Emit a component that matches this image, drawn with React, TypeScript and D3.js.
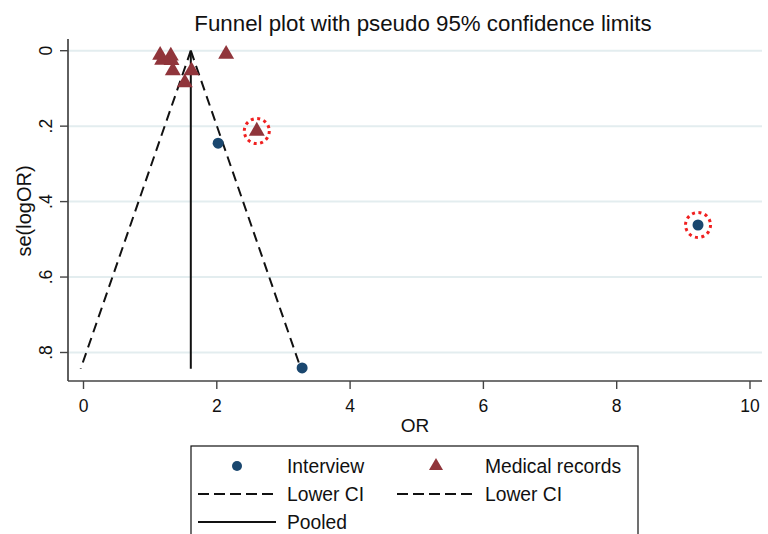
import React from "react";
import * as d3 from "d3";

const interviewOR = [2.02, 9.22, 3.28];
const interviewSE = [0.245, 0.462, 0.841];
const medicalOR = [1.15, 1.18, 1.31, 1.32, 1.34, 1.62, 1.52, 2.14, 2.6];
const medicalSE = [0.012, 0.025, 0.014, 0.026, 0.053, 0.053, 0.085, 0.009, 0.213];
const highlightInterview = [1];
const highlightMedical = [8];
const pooledOR = 1.61;
const seMax = 0.843;
const xTicks = [0, 2, 4, 6, 8, 10];
const yTicks = [0, 0.2, 0.4, 0.6, 0.8];
const yTickLabels = ["0", ".2", ".4", ".6", ".8"];
const legendLabels = ["Interview", "Medical records", "Lower CI", "Lower CI", "Pooled"];

const W = 768;
const H = 534;
const FONT = "'Liberation Sans', Arial, sans-serif";
const BLUE = "#1a476f";
const MAROON = "#90353b";

export default function App() {
  const plotL = 68, plotR = 762, plotT = 39, plotB = 381;
  const x = d3.scaleLinear().domain([0, 10]).range([83.5, 750]);
  const y = d3.scaleLinear().domain([0, 0.8]).range([50.7, 352.5]);
  const z = 1.96;
  const line = d3.line<[number, number]>().x((d) => x(d[0])).y((d) => y(d[1]));
  const lowerCI: [number, number][] = [[pooledOR, 0], [pooledOR - z * seMax, seMax]];
  const upperCI: [number, number][] = [[pooledOR, 0], [pooledOR + z * seMax, seMax]];
  const pooledLine: [number, number][] = [[pooledOR, 0], [pooledOR, seMax]];
  const tri = d3.symbol().type(d3.symbolTriangle).size(110)();
  const triLegend = d3.symbol().type(d3.symbolTriangle).size(85)();

  const highlights = [
    ...highlightInterview.map((i) => [interviewOR[i], interviewSE[i]]),
    ...highlightMedical.map((i) => [medicalOR[i], medicalSE[i]]),
  ];

  return (
    <svg width={W} height={H} style={{ position: "absolute", left: 0, top: 0, background: "#fff" }} fontFamily={FONT}>
      <rect x={0} y={0} width={W} height={H} fill="#fff" />
      <text x={423} y={31} textAnchor="middle" fontSize={22.3} fill="#111">
        Funnel plot with pseudo 95% confidence limits
      </text>
      {yTicks.map((t) => (
        <line key={"g" + t} x1={plotL} x2={plotR} y1={y(t)} y2={y(t)} stroke="#e3edef" strokeWidth={2} />
      ))}
      {/* axes */}
      <line x1={plotL} x2={plotL} y1={plotT} y2={plotB} stroke="#444" strokeWidth={1.7} />
      <line x1={plotL} x2={plotR} y1={plotB} y2={plotB} stroke="#444" strokeWidth={1.7} />
      {yTicks.map((t, i) => (
        <g key={"yt" + t}>
          <line x1={plotL - 8} x2={plotL} y1={y(t)} y2={y(t)} stroke="#444" strokeWidth={1.4} />
          <text
            transform={`translate(${52},${y(t)}) rotate(-90)`}
            textAnchor="middle"
            fontSize={17.5}
            fill="#111"
          >
            {yTickLabels[i]}
          </text>
        </g>
      ))}
      {xTicks.map((t) => (
        <g key={"xt" + t}>
          <line x1={x(t)} x2={x(t)} y1={plotB} y2={plotB + 8} stroke="#444" strokeWidth={1.4} />
          <text x={x(t)} y={412} textAnchor="middle" fontSize={17.5} fill="#111">
            {t}
          </text>
        </g>
      ))}
      <text x={415} y={432} textAnchor="middle" fontSize={19} fill="#111">OR</text>
      <text transform={`translate(${31},${211}) rotate(-90)`} textAnchor="middle" fontSize={20} fill="#111">
        se(logOR)
      </text>
      {/* funnel */}
      <path d={line(lowerCI) || ""} fill="none" stroke="#111" strokeWidth={2} strokeDasharray="10,6" />
      <path d={line(upperCI) || ""} fill="none" stroke="#111" strokeWidth={2} strokeDasharray="10,6" />
      <path d={line(pooledLine) || ""} fill="none" stroke="#111" strokeWidth={2} />
      {/* points */}
      {interviewOR.map((v, i) => (
        <circle key={"c" + i} cx={x(v)} cy={y(interviewSE[i])} r={5.5} fill={BLUE} />
      ))}
      {medicalOR.map((v, i) => (
        <path key={"t" + i} d={tri || ""} transform={`translate(${x(v)},${y(medicalSE[i])})`} fill={MAROON} />
      ))}
      {highlights.map((p, i) => (
        <circle
          key={"h" + i}
          cx={x(p[0])}
          cy={y(p[1])}
          r={12.5}
          fill="none"
          stroke="#f02020"
          strokeWidth={3}
          strokeDasharray="3,3.55"
        />
      ))}
      {/* legend */}
      <rect x={191} y={446} width={447} height={100} fill="#fff" stroke="#111" strokeWidth={1.2} />
      <circle cx={237} cy={466} r={5} fill={BLUE} />
      <text x={287} y={473} fontSize={19.3} fill="#111">{legendLabels[0]}</text>
      <path d={triLegend || ""} transform="translate(436,466)" fill={MAROON} />
      <text x={485} y={473} fontSize={19.3} fill="#111">{legendLabels[1]}</text>
      <line x1={198} x2={276} y1={494} y2={494} stroke="#111" strokeWidth={1.8} strokeDasharray="11,5" />
      <text x={287} y={501} fontSize={19.3} fill="#111">{legendLabels[2]}</text>
      <line x1={397} x2={475} y1={494} y2={494} stroke="#111" strokeWidth={1.8} strokeDasharray="11,5" />
      <text x={485} y={501} fontSize={19.3} fill="#111">{legendLabels[3]}</text>
      <line x1={198} x2={276} y1={522} y2={522} stroke="#111" strokeWidth={1.8} />
      <text x={287} y={529} fontSize={19.3} fill="#111">{legendLabels[4]}</text>
    </svg>
  );
}
